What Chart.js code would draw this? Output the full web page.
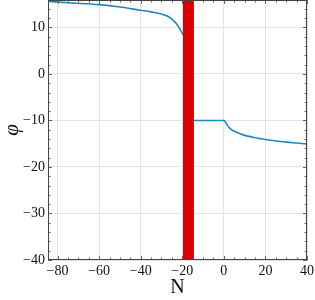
<!DOCTYPE html>
<html>
<head>
<meta charset="utf-8">
<script src="https://cdn.jsdelivr.net/npm/chart.js@4"></script>
<style>
  html, body { margin: 0; padding: 0; background: #fff; }
  #wrap { width: 315px; height: 300px; }
</style>
</head>
<body>
<div id="wrap"><canvas id="phiChart"></canvas></div>
<script>
// left branch (before the red band)
const leftN   = [-84.6, -75, -60, -50, -40, -35, -30, -27, -25, -23, -21.5, -20.5, -19.7];
const leftPhi = [15.6, 15.3, 14.9, 14.4, 13.7, 13.35, 12.9, 12.4, 11.8, 10.9, 9.95, 9.15, 8.4];

// right branch (after the red band)
const rightN   = [-14.4, -5, 0, 0.6, 1.4, 2.5, 4.5, 7, 9.3, 14, 20, 25, 30, 35, 40];
const rightPhi = [-10, -10, -10, -10.25, -10.8, -11.5, -12.2, -12.7, -13.1, -13.6, -14.1, -14.4, -14.65, -14.85, -15.05];

// red band edges
const bandN = [-19.7, -14.4];

const xTicks = [-80, -60, -40, -20, 0, 20, 40];
const yTicks = [-40, -30, -20, -10, 0, 10];
const xMin = -84.6, xMax = 40, yMin = -40, yMax = 15.9;

const lineColor = "#1f88bf";
const bandColor = "#d90000";
const fontFamily = "'Liberation Serif', 'DejaVu Serif', serif";

const minus = v => String(v).replace("-", "\u2212");

// inward major/minor ticks on all four sides + box
const boxTicks = {
    id: "boxTicks",
    afterDraw(chart) {
        const { ctx, chartArea: a, scales: { x, y } } = chart;
        ctx.save();
        ctx.strokeStyle = "#666";
        ctx.lineWidth = 1;
        ctx.beginPath();
        for (let v = -80; v <= 40; v += 5) {
            const px = Math.round(x.getPixelForValue(v)) + 0.5;
            const len = v % 20 === 0 ? 4 : 2.5;
            ctx.moveTo(px, a.bottom); ctx.lineTo(px, a.bottom - len);
            ctx.moveTo(px, a.top); ctx.lineTo(px, a.top + len);
        }
        for (let v = -40; v <= 14; v += 2) {
            const py = Math.round(y.getPixelForValue(v)) + 0.5;
            const len = v % 10 === 0 ? 4 : 2.5;
            ctx.moveTo(a.left, py); ctx.lineTo(a.left + len, py);
            ctx.moveTo(a.right, py); ctx.lineTo(a.right - len, py);
        }
        ctx.stroke();
        ctx.strokeStyle = "#444";
        ctx.strokeRect(Math.round(a.left) + 0.5, Math.round(a.top) + 0.5,
            Math.round(a.right - a.left) - 1, Math.round(a.bottom - a.top) - 1);
        ctx.restore();
    }
};

const ctx = document.getElementById("phiChart").getContext("2d");
new Chart(ctx, {
    type: "line",
    data: {
        datasets: [
            {
                data: bandN.map(n => ({ x: n, y: yMax })),
                borderWidth: 0,
                pointRadius: 0,
                backgroundColor: bandColor,
                fill: "start",
                order: 0
            },
            {
                data: leftN.map((n, i) => ({ x: n, y: leftPhi[i] })),
                borderColor: lineColor,
                borderWidth: 1.6,
                pointRadius: 0,
                cubicInterpolationMode: "monotone",
                fill: false,
                order: 1
            },
            {
                data: rightN.map((n, i) => ({ x: n, y: rightPhi[i] })),
                borderColor: lineColor,
                borderWidth: 1.6,
                pointRadius: 0,
                cubicInterpolationMode: "monotone",
                fill: false,
                order: 1
            }
        ]
    },
    options: {
        responsive: true,
        maintainAspectRatio: false,
        animation: false,
        layout: { padding: { left: 0, right: 8, top: 0, bottom: 0 } },
        plugins: { legend: { display: false }, tooltip: { enabled: false } },
        scales: {
            x: {
                type: "linear",
                min: xMin, max: xMax,
                afterBuildTicks: s => { s.ticks = xTicks.map(v => ({ value: v })); },
                afterFit: s => { s.height = 40; s.paddingLeft = 0; s.paddingRight = 0; },
                grid: { color: "#e3e3e3", drawTicks: false },
                border: { display: false },
                ticks: {
                    padding: 3,
                    color: "#111",
                    font: { family: fontFamily, size: 14 },
                    callback: v => minus(v),
                    maxRotation: 0
                },
                title: {
                    display: true, text: "N", color: "#111",
                    font: { family: fontFamily, size: 20 },
                    padding: { top: 2, bottom: 0 }
                }
            },
            y: {
                min: yMin, max: yMax,
                afterBuildTicks: s => { s.ticks = yTicks.map(v => ({ value: v })); },
                afterFit: s => { s.width = 48; s.paddingTop = 0; s.paddingBottom = 0; },
                grid: { color: "#e3e3e3", drawTicks: false },
                border: { display: false },
                ticks: {
                    padding: 3,
                    color: "#111",
                    font: { family: fontFamily, size: 14 },
                    callback: v => minus(v)
                },
                title: {
                    display: true, text: "\u03C6", color: "#111",
                    font: { family: fontFamily, size: 21, style: "italic" },
                    padding: { top: 0, bottom: 0 }
                }
            }
        }
    },
    plugins: [boxTicks]
});
</script>
</body>
</html>
